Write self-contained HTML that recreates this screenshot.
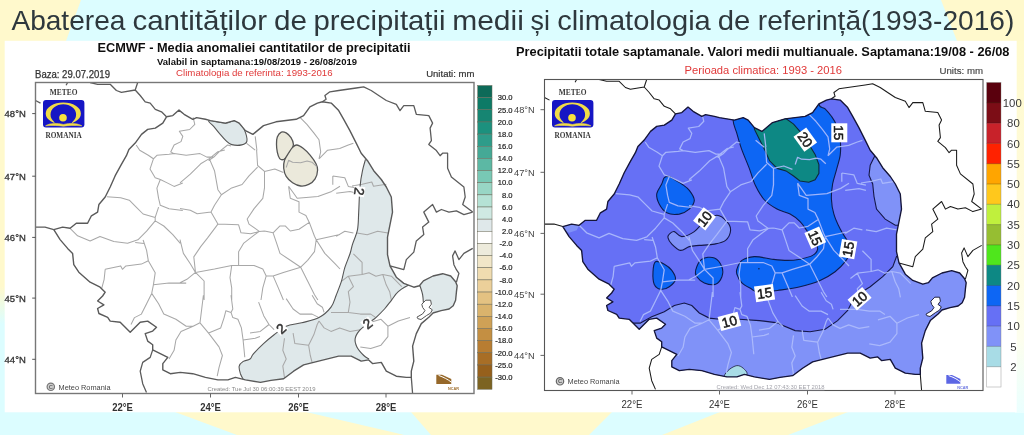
<!DOCTYPE html>
<html><head><meta charset="utf-8"><title>Abaterea cantitatilor de precipitatii</title>
<style>
html,body{margin:0;padding:0;background:#dcfdff;}
body{width:1024px;height:435px;overflow:hidden;}
svg{display:block;font-family:"Liberation Sans",sans-serif;}
</style></head><body>
<svg width="1024" height="435" viewBox="0 0 1024 435">
<defs>

<clipPath id="ro"><path d="M166.5 116.8 L172.8 115.6 L179.0 110.1 L184.1 114.3 L192.8 119.3 L196.6 117.6 L205.4 119.3 L210.4 120.6 L225.4 123.1 L234.2 120.6 L239.2 123.1 L245.4 130.6 L252.9 134.4 L263.5 125.6 L276.0 121.8 L296.1 119.3 L303.6 115.6 L309.9 106.8 L317.4 103.1 L322.4 101.8 L331.2 103.1 L338.7 110.6 L343.7 119.3 L349.9 130.6 L356.2 143.1 L361.2 153.2 L367.5 160.7 L373.7 170.7 L381.3 179.5 L386.3 187.0 L391.3 197.0 L392.5 212.1 L390.0 224.6 L387.5 237.1 L387.5 254.6 L390.0 265.9 L396.3 277.2 L403.8 283.4 L413.8 287.2 L419.4 285.7 L423.4 280.9 L433.0 276.0 L442.7 273.7 L450.7 276.0 L455.6 281.7 L457.2 285.7 L456.4 292.2 L455.6 300.2 L453.2 305.8 L449.1 309.0 L441.1 310.6 L433.0 313.0 L428.8 317.3 L421.3 323.6 L416.3 333.6 L412.6 346.1 L413.8 361.1 L411.3 371.2 L411.3 377.4 L406.3 377.4 L396.3 376.2 L386.3 371.2 L381.3 362.4 L372.5 363.6 L368.7 359.9 L361.2 361.1 L351.2 356.1 L338.7 356.1 L318.6 361.1 L303.6 364.9 L293.6 371.2 L283.6 378.7 L271.0 380.4 L260.5 382.4 L245.4 379.9 L235.4 377.4 L227.9 379.9 L217.9 379.9 L205.4 377.4 L192.8 373.7 L180.3 372.4 L170.3 373.7 L162.8 369.9 L162.8 363.6 L167.8 357.4 L152.7 349.9 L152.7 344.8 L147.7 341.1 L145.2 333.6 L152.7 331.1 L156.5 327.3 L147.7 321.1 L140.2 322.3 L130.2 332.3 L120.2 322.3 L110.2 321.1 L107.7 317.3 L98.9 313.5 L97.6 308.5 L103.9 304.8 L97.6 301.0 L102.6 296.0 L105.2 292.2 L100.1 287.2 L90.1 282.2 L78.8 272.2 L73.8 264.7 L72.6 253.4 L67.6 248.4 L60.1 239.6 L53.8 229.6 L62.6 227.1 L70.1 228.3 L76.3 223.3 L87.6 223.3 L91.4 215.8 L97.6 212.1 L98.9 204.5 L105.2 197.0 L110.2 187.0 L115.2 175.7 L121.4 164.4 L126.4 155.7 L128.9 149.4 L135.2 143.1 L141.5 134.4 L147.7 129.4 L155.3 128.1 L162.8 123.1 Z"/></clipPath>
<clipPath id="frL"><rect x="35.5" y="82.5" width="438.5" height="311"/></clipPath>
<path id="roP" d="M166.5 116.8 L172.8 115.6 L179.0 110.1 L184.1 114.3 L192.8 119.3 L196.6 117.6 L205.4 119.3 L210.4 120.6 L225.4 123.1 L234.2 120.6 L239.2 123.1 L245.4 130.6 L252.9 134.4 L263.5 125.6 L276.0 121.8 L296.1 119.3 L303.6 115.6 L309.9 106.8 L317.4 103.1 L322.4 101.8 L331.2 103.1 L338.7 110.6 L343.7 119.3 L349.9 130.6 L356.2 143.1 L361.2 153.2 L367.5 160.7 L373.7 170.7 L381.3 179.5 L386.3 187.0 L391.3 197.0 L392.5 212.1 L390.0 224.6 L387.5 237.1 L387.5 254.6 L390.0 265.9 L396.3 277.2 L403.8 283.4 L413.8 287.2 L419.4 285.7 L423.4 280.9 L433.0 276.0 L442.7 273.7 L450.7 276.0 L455.6 281.7 L457.2 285.7 L456.4 292.2 L455.6 300.2 L453.2 305.8 L449.1 309.0 L441.1 310.6 L433.0 313.0 L428.8 317.3 L421.3 323.6 L416.3 333.6 L412.6 346.1 L413.8 361.1 L411.3 371.2 L411.3 377.4 L406.3 377.4 L396.3 376.2 L386.3 371.2 L381.3 362.4 L372.5 363.6 L368.7 359.9 L361.2 361.1 L351.2 356.1 L338.7 356.1 L318.6 361.1 L303.6 364.9 L293.6 371.2 L283.6 378.7 L271.0 380.4 L260.5 382.4 L245.4 379.9 L235.4 377.4 L227.9 379.9 L217.9 379.9 L205.4 377.4 L192.8 373.7 L180.3 372.4 L170.3 373.7 L162.8 369.9 L162.8 363.6 L167.8 357.4 L152.7 349.9 L152.7 344.8 L147.7 341.1 L145.2 333.6 L152.7 331.1 L156.5 327.3 L147.7 321.1 L140.2 322.3 L130.2 332.3 L120.2 322.3 L110.2 321.1 L107.7 317.3 L98.9 313.5 L97.6 308.5 L103.9 304.8 L97.6 301.0 L102.6 296.0 L105.2 292.2 L100.1 287.2 L90.1 282.2 L78.8 272.2 L73.8 264.7 L72.6 253.4 L67.6 248.4 L60.1 239.6 L53.8 229.6 L62.6 227.1 L70.1 228.3 L76.3 223.3 L87.6 223.3 L91.4 215.8 L97.6 212.1 L98.9 204.5 L105.2 197.0 L110.2 187.0 L115.2 175.7 L121.4 164.4 L126.4 155.7 L128.9 149.4 L135.2 143.1 L141.5 134.4 L147.7 129.4 L155.3 128.1 L162.8 123.1 Z"/>
<path id="oth" d="M90.1 82.5 L97.6 84.3 L110.2 84.3 L116.4 90.5 L121.4 92.3 L135.2 90.0 L140.2 95.5 L145.2 101.8 L150.2 103.1 L155.3 109.3 L161.5 111.8 L166.5 116.8 M135.2 90.0 L137.7 82.5 M67.6 82.5 L66.1 85.3 M35.5 100.5 L40.5 103.1 M53.8 229.6 L45.0 227.1 L35.5 227.1 M152.7 349.9 L150.2 357.4 L142.7 362.4 L140.2 371.2 L142.7 383.7 L146.5 392.4 M411.3 377.4 L412.6 393.7 M322.4 101.8 L326.1 99.3 L324.9 95.5 L329.9 91.8 L338.7 90.5 L356.2 88.0 L363.7 86.8 L371.2 90.5 L378.7 95.5 L386.3 100.5 L396.3 104.3 L400.0 110.6 L403.8 105.6 L413.8 105.6 L416.3 114.3 L428.8 115.6 L432.6 123.1 L430.1 128.1 L431.4 140.6 L428.8 144.4 L436.4 150.6 L440.1 155.7 L442.6 153.2 L447.6 153.2 L447.6 168.2 L451.4 176.9 L463.9 187.0 L465.2 197.0 L462.7 204.5 L472.7 212.1 M390.0 265.9 L403.8 269.7 L406.3 259.6 L413.8 252.1 L416.3 240.9 L423.8 234.6 L422.6 227.1 L428.8 222.1 L423.8 212.1 L432.6 204.5 L436.4 212.1 L441.4 209.5 L448.9 212.1 L456.4 210.8 L463.9 214.6 L472.7 212.1 M472.7 248.4 L463.9 253.4 L458.9 259.6 L455.1 250.9 L452.6 255.9 L453.9 264.7 L456.4 269.7 L458.9 273.4 L456.4 282.2"/>
<path id="lag" d="M421.8 304.2 L425.8 300.2 L430.6 300.2 L431.4 304.2 L429.0 307.4 L432.3 309.8 L430.6 313.1 L426.6 315.5 L421.0 319.5 L417.8 318.7 L417.0 317.1 L422.6 313.9 L425.0 310.6 L422.6 307.4 Z"/>
<path id="cty" d="M193.1 117.4 L194.8 124.3 L189.7 129.5 L179.3 131.2 L182.8 136.4 L181.0 141.6 L174.1 145.0 L170.7 151.9 L174.1 153.6 L186.2 155.3 L200.0 153.6 L206.9 157.1 L213.8 157.1 M136.2 145.0 L139.7 150.2 L148.3 155.3 L153.4 158.8 L156.9 155.3 L169.0 154.3 L174.1 153.6 M213.8 157.1 L219.0 151.9 L227.6 145.0 L231.0 146.0 M153.4 158.8 L150.0 169.1 L155.2 177.8 L160.3 179.5 L167.2 182.9 L174.1 186.4 L182.8 182.9 M208.6 160.5 L213.8 157.1 M160.3 179.5 L156.9 188.1 L158.6 198.4 L160.3 205.3 L169.0 208.8 L182.8 210.5 M106.9 196.7 L120.7 197.8 L129.3 200.2 L136.2 207.1 L143.1 214.0 L155.2 217.4 L158.6 207.1 M70.1 228.3 L77.6 235.8 L90.1 240.9 L100.0 236.4 L113.8 241.6 L127.6 243.3 L137.9 239.8 L146.6 231.2 L155.2 220.9 L155.2 217.4 M155.2 220.9 L163.8 226.0 L172.8 234.7 L180.3 243.3 M135.2 242.6 L144.0 243.4 M246.6 143.3 L255.2 150.2 M300.0 117.4 L306.9 124.3 L313.8 132.9 L319.0 139.8 L320.7 151.9 L319.0 158.8 M319.0 158.8 L327.6 150.2 L339.7 148.4 L348.3 145.0 L353.4 143.3 M332.8 176.0 L344.8 177.8 L348.3 186.4 L356.9 188.1 M255.2 136.4 L256.9 150.2 M332.8 184.7 L332.8 176.0 M336.2 236.4 L344.8 231.2 L353.4 232.9 M336.2 193.3 L350.0 191.6 L356.9 193.3 M356.9 232.9 L367.2 234.7 L377.6 231.2 L387.9 232.9 M105.2 269.3 L120.7 265.9 L122.4 269.3 L125.9 265.9 L141.4 264.1 L148.3 260.7 L146.6 250.3 L143.1 240.0 M105.2 269.3 L104.1 279.7 L101.7 288.3 M148.3 260.7 L155.2 272.8 L153.4 284.8 L151.7 293.4 L146.6 303.8 L141.4 314.1 L134.5 317.6 L131.0 324.5 M153.4 284.8 L169.0 283.1 L186.2 283.1 M151.7 293.4 L158.6 303.8 L163.8 314.1 L175.9 319.3 L186.2 326.2 L193.1 326.2 L200.0 322.8 L201.7 309.0 L203.4 295.2 M193.1 326.2 L181.0 331.4 L175.9 340.0 L174.1 350.3 L169.0 359.0 M200.0 322.8 L208.6 333.1 L219.0 346.9 L222.4 355.5 L219.0 367.6 L217.2 376.2 M208.6 333.1 L220.7 327.9 L224.1 317.6 L225.9 310.7 L231.0 312.4 L232.8 317.6 L237.9 319.3 L241.4 327.9 L243.1 340.0 L244.8 357.2 M231.0 295.2 L232.8 309.0 L231.0 312.4 M243.1 340.0 L255.2 338.3 L260.0 336.6 M286.2 298.6 L293.1 309.0 L300.0 314.1 L312.1 314.1 L319.0 317.6 M312.1 295.2 L317.2 303.8 L322.4 307.2 L324.1 312.4 M258.6 302.1 L263.8 315.9 L269.0 324.5 L274.1 329.7 M341.4 281.4 L348.3 276.2 L362.1 274.5 L369.0 272.8 L375.9 276.2 L382.8 274.5 L391.4 276.2 L396.6 281.4 L401.7 286.6 M362.1 274.5 L362.1 262.4 L353.4 253.8 M348.3 276.2 L353.4 286.6 L348.3 291.7 L350.0 302.1 L348.3 312.4 M382.8 274.5 L386.2 284.8 L389.7 291.7 L391.4 300.3 M331.0 312.4 L348.3 312.4 L360.3 314.1 L370.7 314.1 L375.9 317.6 M319.0 321.0 L324.1 327.9 L331.0 331.4 L339.7 327.9 L350.0 331.4 L360.3 329.7 M293.1 333.1 L294.8 343.4 L308.6 345.2 L313.8 334.8 L317.2 324.5 L319.0 321.0 M308.6 345.2 L310.3 355.5 L312.1 362.4 M284.5 338.3 L282.8 350.3 L286.2 359.0 L282.8 365.9 L284.5 377.9 M369.0 322.8 L381.0 319.3 L387.9 326.2 L387.9 336.6 L381.0 345.2 L370.7 348.6 L360.3 346.9 M387.9 326.2 L398.3 321.0 L410.0 317.6 M250.0 333.1 L260.3 331.4 L269.0 324.5 M286.2 167.5 L288.6 160.3 L292.6 162.2 L300.6 162.7 L307.1 161.1 L311.9 162.2 L316.8 166.7 M352.0 186.0 L362.2 184.3 L371.8 182.0 L373.5 186.3 L386.3 184.3 M256.6 150.0 L257.6 165.5 L264.5 171.4 L274.8 169.0 L283.4 172.4 M209.3 158.6 L214.5 170.7 L217.9 189.7 L221.4 194.8 L231.7 187.9 L242.1 184.5 L249.0 175.9 L257.6 167.2 M180.0 182.8 L190.3 174.1 L200.7 163.8 L209.3 158.6 L217.9 151.7 L224.8 150.0 M221.4 194.8 L214.5 205.2 L211.0 212.1 L197.2 213.8 L190.3 210.3 L180.0 208.6 M211.0 212.1 L217.9 224.1 L238.6 224.8 L241.0 232.8 L250.7 233.8 L259.3 231.4 L264.5 231.0 M264.5 171.4 L264.5 187.9 L262.8 198.3 L254.1 208.6 L247.2 219.0 L249.0 224.1 L259.3 231.4 M264.5 231.0 L273.1 232.8 L280.0 225.9 L285.2 225.9 L290.3 231.0 L299.0 229.3 L309.3 222.4 L305.9 215.5 L299.0 212.1 L299.0 201.7 L290.3 198.3 L288.6 186.2 M309.3 222.4 L314.5 236.2 L316.2 239.7 L340.0 234.5 M316.2 239.7 L314.5 251.7 L307.6 260.3 L300.7 267.2 L290.3 260.3 L280.0 253.4 L276.6 243.1 L273.1 232.8 M300.7 267.2 L283.4 272.4 L273.1 275.9 L266.2 275.9 L262.8 269.0 L254.1 265.5 L238.6 265.5 L231.7 265.5 L214.5 269.0 L195.5 272.4 M238.6 265.5 L238.6 251.7 L243.8 243.1 L254.1 235.2 L259.3 231.4 M195.5 272.4 L193.8 256.9 L200.7 246.6 L207.6 237.9 L217.9 224.1 M195.5 272.4 L186.9 279.3 L180.0 282.8 M195.5 272.4 L204.1 281.0 L204.1 300.0 M231.7 265.5 L230.0 277.6 L231.7 287.9 L231.7 300.0 M266.2 275.9 L262.8 287.9 L261.0 300.0 M273.1 275.9 L278.3 287.9 L283.4 300.0 M300.7 267.2 L307.6 281.0 L314.5 294.8 L317.9 300.0 M316.2 239.7 L324.8 253.4 L335.2 263.8 L340.0 269.0 M180.0 239.7 L183.4 253.4 L190.3 263.8 L195.5 272.4 M288.6 186.2 L297.2 198.3 L317.9 196.6 L331.7 191.4 L340.0 186.2"/>
<g id="logo">
<text x="20.6" y="-5.1" font-family="Liberation Serif" font-weight="bold" font-size="8" text-anchor="middle" fill="#3a3a3a" textLength="27.6" lengthAdjust="spacingAndGlyphs">METEO</text>
<rect x="0" y="0" width="41.4" height="27.5" rx="3" fill="#1818c4"/>
<clipPath id="lgc"><rect x="0" y="0" width="41.4" height="23.6"/></clipPath>
<path clip-rule="evenodd" clip-path="url(#lgc)" fill-rule="evenodd" fill="#f0dc46" d="M2.7 13.5 A17.6 11 0 1 0 37.9 13.5 A17.6 11 0 1 0 2.7 13.5 Z M7.5 14.6 A12.8 10.4 0 1 0 33.1 14.6 A12.8 10.4 0 1 0 7.5 14.6 Z"/>
<rect x="11.5" y="20.6" width="17.6" height="4.4" fill="#1818c4"/>
<path d="M2.6 25.8 C7 23 14 22.9 20.4 24.5 C27 22.9 34 23 38.8 25.8 C31 25.2 26 25.4 20.4 26.2 C15 25.4 10 25.2 2.6 25.8 Z" fill="#f0dc46" stroke="#f0dc46" stroke-width="0.6"/>
<circle cx="20" cy="17.8" r="3.8" fill="#f7e23c"/>
<text x="20.6" y="38.3" font-family="Liberation Serif" font-weight="bold" font-size="8" text-anchor="middle" fill="#3a3a3a" textLength="36.4" lengthAdjust="spacingAndGlyphs">ROMANIA</text>
</g>

<linearGradient id="rg" x1="0" y1="0" x2="0" y2="1"><stop offset="0" stop-color="#fffacd"/><stop offset="0.45" stop-color="#fffbdc"/><stop offset="0.8" stop-color="#fdfeee"/><stop offset="1" stop-color="#eaffff"/></linearGradient>
<linearGradient id="lgd" x1="0" y1="0" x2="0" y2="1"><stop offset="0" stop-color="#fff9cc"/><stop offset="0.66" stop-color="#fff9cc"/><stop offset="0.76" stop-color="#dcfdff"/><stop offset="1" stop-color="#dcfdff"/></linearGradient>
<filter id="soft" x="0" y="0" width="1024" height="435" filterUnits="userSpaceOnUse"><feGaussianBlur stdDeviation="0.4"/></filter>
</defs>

<g filter="url(#soft)">
<rect width="1024" height="435" fill="#dcfdff"/>
<path d="M0 0 L81 0 L66 41 L0 41 Z" fill="#fff9cc"/><rect x="0" y="41" width="6" height="372" fill="url(#lgd)"/>
<path d="M941 0 L1024 0 L1024 41 L957 41 Z" fill="#fff9cc"/><rect x="1015" y="41" width="9" height="372" fill="url(#rg)"/>
<path d="M175 412 L306 412 L396 433 L404 435 L237 435 Z" fill="#fff9cc"/>
<path d="M411 412 L612 412 L589 435 L431 435 Z" fill="#fff9cc"/>
<path d="M720 412 L848 412 L788 435 L662 435 Z" fill="#fff9cc"/>
<rect x="4.7" y="40.8" width="1012" height="371.5" fill="#ffffff"/>
<text x="11.4" y="29.7" font-size="27.2" fill="#2f393e" textLength="114.0" lengthAdjust="spacingAndGlyphs">Abaterea</text>
<text x="132.4" y="29.7" font-size="27.2" fill="#2f393e" textLength="134.6" lengthAdjust="spacingAndGlyphs">cantităților</text>
<text x="274.0" y="29.7" font-size="27.2" fill="#2f393e" textLength="33.0" lengthAdjust="spacingAndGlyphs">de</text>
<text x="313.4" y="29.7" font-size="27.2" fill="#2f393e" textLength="132.2" lengthAdjust="spacingAndGlyphs">precipitații</text>
<text x="452.2" y="29.7" font-size="27.2" fill="#2f393e" textLength="71.6" lengthAdjust="spacingAndGlyphs">medii</text>
<text x="530.6" y="29.7" font-size="27.2" fill="#2f393e" textLength="19.4" lengthAdjust="spacingAndGlyphs">și</text>
<text x="557.2" y="29.7" font-size="27.2" fill="#2f393e" textLength="153.6" lengthAdjust="spacingAndGlyphs">climatologia</text>
<text x="717.8" y="29.7" font-size="27.2" fill="#2f393e" textLength="32.6" lengthAdjust="spacingAndGlyphs">de</text>
<text x="757.8" y="29.7" font-size="27.2" fill="#2f393e" textLength="256.6" lengthAdjust="spacingAndGlyphs">referință(1993-2016)</text>
<g clip-path="url(#frL)">
<g clip-path="url(#ro)">
<path d="M365.5 159.4 L362.5 170.7 L360.0 187.0 L358.7 212.1 L357.5 229.6 L352.4 244.6 L350.0 253.8 L344.8 267.6 L341.4 281.4 L336.2 295.2 L331.0 307.2 L319.0 317.6 L301.7 322.8 L286.2 326.2 L274.1 334.8 L263.8 343.4 L253.4 353.8 L250.0 359.0 L242.9 361.6 L239.2 366.1 L240.4 373.7 L244.2 381.2 L260.0 420.0 L520.0 420.0 L520.0 150.0 Z" fill="#dfe8ea"/>
<path d="M369.0 359.0 L363.8 355.5 L356.9 346.9 L355.2 338.3 L360.3 329.7 L369.0 322.8 L375.9 317.6 L384.5 309.0 L391.4 300.3 L398.3 291.7 L410.0 284.8 L419.4 285.7 L480.0 285.7 L480.0 420.0 L370.0 420.0 Z" fill="#ffffff"/>
<path d="M419.4 285.7 L423.4 280.9 L433.0 276.0 L442.7 273.7 L450.7 276.0 L455.6 281.7 L457.2 285.7 L456.4 292.2 L455.6 300.2 L453.2 305.8 L449.1 309.0 L441.1 310.6 L433.0 313.0 L431.4 308.2 L432.2 303.4 L428.2 301.0 L423.4 302.6 L422.6 294.6 L420.2 286.5 Z" fill="#dfe8ea"/>
<path d="M209.1 120.6 C211.0 120.0 221.2 123.1 225.4 123.1 C229.6 123.1 231.9 120.6 234.2 120.6 C236.5 120.6 237.5 121.6 239.2 123.1 C240.8 124.6 242.9 126.3 244.2 129.4 C245.5 132.4 247.4 138.5 246.9 141.1 C246.5 143.7 244.2 144.3 241.7 144.9 C239.1 145.5 234.3 145.3 231.7 144.6 C229.0 143.9 227.9 142.5 225.9 140.6 C223.9 138.8 221.6 135.9 219.6 133.6 C217.7 131.3 215.9 129.0 214.1 126.8 C212.4 124.7 207.2 121.2 209.1 120.6 Z" fill="#dfe8ea"/>
</g>
<path d="M281.3 132.1 C282.8 131.4 284.6 132.0 286.2 132.9 C287.8 133.8 289.8 135.8 291.0 137.7 C292.2 139.6 293.3 142.2 293.4 144.2 C293.5 146.2 292.7 147.9 291.8 149.8 C290.9 151.7 289.2 153.8 287.8 155.4 C286.4 157.0 285.1 159.0 283.7 159.5 C282.3 160.0 280.8 159.8 279.7 158.6 C278.6 157.4 277.8 154.6 277.3 152.2 C276.8 149.8 276.5 146.8 276.5 144.2 C276.5 141.6 276.5 138.9 277.3 136.9 C278.1 134.9 279.8 132.8 281.3 132.1 Z" fill="#ebe9db" stroke="#555" stroke-width="1.3"/>
<path d="M296.6 145.0 C298.4 145.1 300.8 146.5 303.1 148.2 C305.4 149.9 308.2 152.8 310.3 155.4 C312.4 158.0 314.7 161.1 315.9 163.5 C317.1 165.9 317.7 167.3 317.6 169.9 C317.5 172.5 316.6 176.4 315.1 178.8 C313.6 181.2 311.1 183.2 308.7 184.4 C306.3 185.6 303.3 186.3 300.6 186.0 C297.9 185.7 295.0 184.4 292.6 182.8 C290.2 181.2 287.7 178.8 286.2 176.4 C284.7 174.0 284.0 171.0 283.7 168.3 C283.4 165.6 283.7 162.9 284.5 160.3 C285.3 157.8 287.2 155.2 288.6 153.0 C290.0 150.8 291.3 148.7 292.6 147.4 C293.9 146.1 294.9 144.9 296.6 145.0 Z" fill="#ebe9db" stroke="#555" stroke-width="1.3"/>
<use href="#cty" fill="none" stroke="#a8a8a8" stroke-width="1.05" stroke-linejoin="round"/>
<g clip-path="url(#ro)">
<path d="M209.1 120.6 C211.0 120.0 221.2 123.1 225.4 123.1 C229.6 123.1 231.9 120.6 234.2 120.6 C236.5 120.6 237.5 121.6 239.2 123.1 C240.8 124.6 242.9 126.3 244.2 129.4 C245.5 132.4 247.4 138.5 246.9 141.1 C246.5 143.7 244.2 144.3 241.7 144.9 C239.1 145.5 234.3 145.3 231.7 144.6 C229.0 143.9 227.9 142.5 225.9 140.6 C223.9 138.8 221.6 135.9 219.6 133.6 C217.7 131.3 215.9 129.0 214.1 126.8 C212.4 124.7 207.2 121.2 209.1 120.6 Z" fill="none" stroke="#555" stroke-width="1.1"/>
<path d="M365.5 159.4 C365.0 161.3 363.4 166.1 362.5 170.7 C361.5 175.3 360.6 180.1 360.0 187.0 C359.3 193.9 359.1 204.9 358.7 212.1 C358.3 219.2 358.5 224.2 357.5 229.6 C356.4 235.0 353.7 240.6 352.4 244.6 C351.2 248.6 351.3 250.0 350.0 253.8 C348.7 257.6 346.3 263.0 344.8 267.6 C343.4 272.2 342.8 276.8 341.4 281.4 C339.9 286.0 337.9 290.9 336.2 295.2 C334.5 299.5 333.9 303.5 331.0 307.2 C328.2 311.0 323.9 315.0 319.0 317.6 C314.1 320.2 307.2 321.3 301.7 322.8 C296.3 324.2 290.8 324.2 286.2 326.2 C281.6 328.2 277.9 332.0 274.1 334.8 C270.4 337.7 267.2 340.3 263.8 343.4 C260.3 346.6 255.7 351.2 253.4 353.8 C251.1 356.4 251.8 357.7 250.0 359.0 C248.2 360.3 244.7 360.4 242.9 361.6 C241.1 362.8 239.6 364.1 239.2 366.1 C238.8 368.1 239.6 371.2 240.4 373.7 C241.3 376.2 243.6 379.9 244.2 381.2" fill="none" stroke="#555" stroke-width="1.1"/>
<path d="M369.0 359.0 C368.1 358.4 365.8 357.5 363.8 355.5 C361.8 353.5 358.3 349.8 356.9 346.9 C355.5 344.0 354.6 341.1 355.2 338.3 C355.7 335.4 358.0 332.2 360.3 329.7 C362.6 327.1 366.4 324.8 369.0 322.8 C371.6 320.7 373.3 319.9 375.9 317.6 C378.4 315.3 381.9 311.8 384.5 309.0 C387.1 306.1 389.1 303.2 391.4 300.3 C393.7 297.5 395.2 294.3 398.3 291.7 C401.4 289.1 406.5 285.8 410.0 284.8 C413.5 283.8 417.8 285.6 419.4 285.7" fill="none" stroke="#555" stroke-width="1.1"/>
<path d="M419.4 285.7 C419.5 285.8 419.7 285.0 420.2 286.5 C420.7 288.0 422.1 291.9 422.6 294.6 C423.1 297.3 423.3 301.3 423.4 302.6" fill="none" stroke="#555" stroke-width="1.1"/>
</g>
<use href="#lag" fill="#fff" stroke="#555" stroke-width="1" stroke-linejoin="round"/>
<use href="#oth" fill="none" stroke="#5c5c5c" stroke-width="1.3" stroke-linejoin="round"/>
<use href="#roP" fill="none" stroke="#5a5a5a" stroke-width="1.4" stroke-linejoin="round"/>
</g>
<g transform="translate(359.2 191.5) rotate(98)"><rect x="-5" y="-5.5" width="10" height="11" fill="#fff"/><text x="0" y="4.9" font-size="13.8" text-anchor="middle" fill="#333" stroke="#333" stroke-width="0.5">2</text></g>
<g transform="translate(281.0 328.6) rotate(-42)"><rect x="-5" y="-5.5" width="10" height="11" fill="#fff"/><text x="0" y="4.9" font-size="13.8" text-anchor="middle" fill="#333" stroke="#333" stroke-width="0.5">2</text></g>
<g transform="translate(367.5 323.6) rotate(-38)"><rect x="-5" y="-5.5" width="10" height="11" fill="#fff"/><text x="0" y="4.9" font-size="13.8" text-anchor="middle" fill="#333" stroke="#333" stroke-width="0.5">2</text></g>
<rect x="35.5" y="82.5" width="438.5" height="311" fill="none" stroke="#777" stroke-width="1.4"/>
<use href="#logo" x="43" y="100"/>
<text x="254" y="52.4" font-size="12.4" font-weight="bold" text-anchor="middle" fill="#111" textLength="313" lengthAdjust="spacingAndGlyphs">ECMWF - Media anomaliei cantitatilor de precipitatii</text>
<text x="257" y="65.1" font-size="9.2" font-weight="bold" text-anchor="middle" fill="#111" textLength="200" lengthAdjust="spacingAndGlyphs">Valabil in saptamana:19/08/2019 - 26/08/2019</text>
<text x="254.3" y="75.6" font-size="9.2" text-anchor="middle" fill="#e03838" textLength="156.5" lengthAdjust="spacingAndGlyphs">Climatologia de referinta: 1993-2016</text>
<text x="35" y="77.5" font-size="10.2" fill="#333" stroke="#333" stroke-width="0.25" textLength="75" lengthAdjust="spacingAndGlyphs">Baza: 29.07.2019</text>
<text x="426.2" y="77.3" font-size="9.6" fill="#333" stroke="#333" stroke-width="0.2" textLength="48.2" lengthAdjust="spacingAndGlyphs">Unitati: mm</text>
<text x="4.6" y="117.0" font-size="9.6" fill="#333" stroke="#333" stroke-width="0.3" textLength="21.2" lengthAdjust="spacingAndGlyphs">48°N</text>
<path d="M32.2 113.6 H35.5" stroke="#555" stroke-width="1"/>
<text x="4.6" y="179.6" font-size="9.6" fill="#333" stroke="#333" stroke-width="0.3" textLength="21.2" lengthAdjust="spacingAndGlyphs">47°N</text>
<path d="M32.2 176.2 H35.5" stroke="#555" stroke-width="1"/>
<text x="4.6" y="240.8" font-size="9.6" fill="#333" stroke="#333" stroke-width="0.3" textLength="21.2" lengthAdjust="spacingAndGlyphs">46°N</text>
<path d="M32.2 237.4 H35.5" stroke="#555" stroke-width="1"/>
<text x="4.6" y="301.5" font-size="9.6" fill="#333" stroke="#333" stroke-width="0.3" textLength="21.2" lengthAdjust="spacingAndGlyphs">45°N</text>
<path d="M32.2 298.1 H35.5" stroke="#555" stroke-width="1"/>
<text x="4.6" y="362.7" font-size="9.6" fill="#333" stroke="#333" stroke-width="0.3" textLength="21.2" lengthAdjust="spacingAndGlyphs">44°N</text>
<path d="M32.2 359.3 H35.5" stroke="#555" stroke-width="1"/>
<text x="122.5" y="411.2" font-size="10.2" font-weight="bold" fill="#333" text-anchor="middle" textLength="20.7" lengthAdjust="spacingAndGlyphs">22°E</text>
<path d="M122.5 393.5 V397.5" stroke="#666" stroke-width="1"/>
<text x="210.5" y="411.2" font-size="10.2" font-weight="bold" fill="#333" text-anchor="middle" textLength="20.7" lengthAdjust="spacingAndGlyphs">24°E</text>
<path d="M210.5 393.5 V397.5" stroke="#666" stroke-width="1"/>
<text x="298.5" y="411.2" font-size="10.2" font-weight="bold" fill="#333" text-anchor="middle" textLength="20.7" lengthAdjust="spacingAndGlyphs">26°E</text>
<path d="M298.5 393.5 V397.5" stroke="#666" stroke-width="1"/>
<text x="386.0" y="411.2" font-size="10.2" font-weight="bold" fill="#333" text-anchor="middle" textLength="20.7" lengthAdjust="spacingAndGlyphs">28°E</text>
<path d="M386.0 393.5 V397.5" stroke="#666" stroke-width="1"/>
<circle cx="50.8" cy="386.8" r="3.7" fill="#cfcfcf" stroke="#777" stroke-width="1.2"/><text x="50.8" y="388.9" font-size="5.8" text-anchor="middle" fill="#666" font-weight="bold">C</text>
<text x="58.5" y="389.5" font-size="7.4" fill="#444" textLength="52" lengthAdjust="spacingAndGlyphs">Meteo Romania</text>
<text x="207.5" y="390.6" font-size="5" fill="#888" textLength="108" lengthAdjust="spacingAndGlyphs">Created: Tue Jul 30 06:00:39 EEST 2019</text>
<path d="M436.3 374.8 L442 374.8 L451.3 379 L451.3 383.9 L436.3 383.9 Z" fill="#96682a"/><path d="M438.6 375.4 C443 377 447.8 379.3 451.7 382.4" stroke="#fff" stroke-width="1" fill="none"/>
<text x="453.5" y="389.6" font-size="3.8" fill="#a07030" text-anchor="middle" font-weight="bold">NCAR</text>
<rect x="477.7" y="85.50" width="14.3" height="12.15" fill="#0b6b58" stroke="#6a6a5a" stroke-width="0.5"/>
<rect x="477.7" y="97.65" width="14.3" height="12.15" fill="#0f7a66" stroke="#6a6a5a" stroke-width="0.5"/>
<rect x="477.7" y="109.80" width="14.3" height="12.15" fill="#158572" stroke="#6a6a5a" stroke-width="0.5"/>
<rect x="477.7" y="121.95" width="14.3" height="12.15" fill="#1f917e" stroke="#6a6a5a" stroke-width="0.5"/>
<rect x="477.7" y="134.10" width="14.3" height="12.15" fill="#2e9c8a" stroke="#6a6a5a" stroke-width="0.5"/>
<rect x="477.7" y="146.25" width="14.3" height="12.15" fill="#45a996" stroke="#6a6a5a" stroke-width="0.5"/>
<rect x="477.7" y="158.40" width="14.3" height="12.15" fill="#5bb8a4" stroke="#6a6a5a" stroke-width="0.5"/>
<rect x="477.7" y="170.55" width="14.3" height="12.15" fill="#78c8b5" stroke="#6a6a5a" stroke-width="0.5"/>
<rect x="477.7" y="182.70" width="14.3" height="12.15" fill="#98d6c5" stroke="#6a6a5a" stroke-width="0.5"/>
<rect x="477.7" y="194.85" width="14.3" height="12.15" fill="#b5e2d5" stroke="#6a6a5a" stroke-width="0.5"/>
<rect x="477.7" y="207.00" width="14.3" height="12.15" fill="#cfe9e3" stroke="#6a6a5a" stroke-width="0.5"/>
<rect x="477.7" y="219.15" width="14.3" height="12.15" fill="#dfe8ea" stroke="#6a6a5a" stroke-width="0.5"/>
<rect x="477.7" y="231.30" width="14.3" height="12.15" fill="#ffffff" stroke="#6a6a5a" stroke-width="0.5"/>
<rect x="477.7" y="243.45" width="14.3" height="12.15" fill="#edebdc" stroke="#6a6a5a" stroke-width="0.5"/>
<rect x="477.7" y="255.60" width="14.3" height="12.15" fill="#f1e6c8" stroke="#6a6a5a" stroke-width="0.5"/>
<rect x="477.7" y="267.75" width="14.3" height="12.15" fill="#f0dcb0" stroke="#6a6a5a" stroke-width="0.5"/>
<rect x="477.7" y="279.90" width="14.3" height="12.15" fill="#ecd09a" stroke="#6a6a5a" stroke-width="0.5"/>
<rect x="477.7" y="292.05" width="14.3" height="12.15" fill="#e4c282" stroke="#6a6a5a" stroke-width="0.5"/>
<rect x="477.7" y="304.20" width="14.3" height="12.15" fill="#dab36c" stroke="#6a6a5a" stroke-width="0.5"/>
<rect x="477.7" y="316.35" width="14.3" height="12.15" fill="#cfa157" stroke="#6a6a5a" stroke-width="0.5"/>
<rect x="477.7" y="328.50" width="14.3" height="12.15" fill="#c48f42" stroke="#6a6a5a" stroke-width="0.5"/>
<rect x="477.7" y="340.65" width="14.3" height="12.15" fill="#b87d30" stroke="#6a6a5a" stroke-width="0.5"/>
<rect x="477.7" y="352.80" width="14.3" height="12.15" fill="#a86e25" stroke="#6a6a5a" stroke-width="0.5"/>
<rect x="477.7" y="364.95" width="14.3" height="12.15" fill="#96601e" stroke="#6a6a5a" stroke-width="0.5"/>
<rect x="477.7" y="377.10" width="14.3" height="12.15" fill="#7c6420" stroke="#6a6a5a" stroke-width="0.5"/>
<text x="512.6" y="100.4" font-size="7.6" text-anchor="end" fill="#222" stroke="#222" stroke-width="0.2">30.0</text>
<text x="512.6" y="112.5" font-size="7.6" text-anchor="end" fill="#222" stroke="#222" stroke-width="0.2">25.0</text>
<text x="512.6" y="124.7" font-size="7.6" text-anchor="end" fill="#222" stroke="#222" stroke-width="0.2">20.0</text>
<text x="512.6" y="136.8" font-size="7.6" text-anchor="end" fill="#222" stroke="#222" stroke-width="0.2">18.0</text>
<text x="512.6" y="148.9" font-size="7.6" text-anchor="end" fill="#222" stroke="#222" stroke-width="0.2">16.0</text>
<text x="512.6" y="161.1" font-size="7.6" text-anchor="end" fill="#222" stroke="#222" stroke-width="0.2">14.0</text>
<text x="512.6" y="173.2" font-size="7.6" text-anchor="end" fill="#222" stroke="#222" stroke-width="0.2">12.0</text>
<text x="512.6" y="185.4" font-size="7.6" text-anchor="end" fill="#222" stroke="#222" stroke-width="0.2">10.0</text>
<text x="512.6" y="197.6" font-size="7.6" text-anchor="end" fill="#222" stroke="#222" stroke-width="0.2">8.0</text>
<text x="512.6" y="209.7" font-size="7.6" text-anchor="end" fill="#222" stroke="#222" stroke-width="0.2">6.0</text>
<text x="512.6" y="221.8" font-size="7.6" text-anchor="end" fill="#222" stroke="#222" stroke-width="0.2">4.0</text>
<text x="512.6" y="234.0" font-size="7.6" text-anchor="end" fill="#222" stroke="#222" stroke-width="0.2">2.0</text>
<text x="512.6" y="246.2" font-size="7.6" text-anchor="end" fill="#222" stroke="#222" stroke-width="0.2">-2.0</text>
<text x="512.6" y="258.3" font-size="7.6" text-anchor="end" fill="#222" stroke="#222" stroke-width="0.2">-4.0</text>
<text x="512.6" y="270.4" font-size="7.6" text-anchor="end" fill="#222" stroke="#222" stroke-width="0.2">-6.0</text>
<text x="512.6" y="282.6" font-size="7.6" text-anchor="end" fill="#222" stroke="#222" stroke-width="0.2">-8.0</text>
<text x="512.6" y="294.8" font-size="7.6" text-anchor="end" fill="#222" stroke="#222" stroke-width="0.2">-10.0</text>
<text x="512.6" y="306.9" font-size="7.6" text-anchor="end" fill="#222" stroke="#222" stroke-width="0.2">-12.0</text>
<text x="512.6" y="319.1" font-size="7.6" text-anchor="end" fill="#222" stroke="#222" stroke-width="0.2">-14.0</text>
<text x="512.6" y="331.2" font-size="7.6" text-anchor="end" fill="#222" stroke="#222" stroke-width="0.2">-16.0</text>
<text x="512.6" y="343.3" font-size="7.6" text-anchor="end" fill="#222" stroke="#222" stroke-width="0.2">-18.0</text>
<text x="512.6" y="355.5" font-size="7.6" text-anchor="end" fill="#222" stroke="#222" stroke-width="0.2">-20.0</text>
<text x="512.6" y="367.6" font-size="7.6" text-anchor="end" fill="#222" stroke="#222" stroke-width="0.2">-25.0</text>
<text x="512.6" y="379.8" font-size="7.6" text-anchor="end" fill="#222" stroke="#222" stroke-width="0.2">-30.0</text>
<g transform="translate(509 -3)">
<g clip-path="url(#frL)">
<g clip-path="url(#ro)">
<rect x="30" y="80" width="450" height="320" fill="#6670f5"/>
<path d="M131.5 326.1 L142.7 319.8 L155.3 314.8 L165.3 308.5 L175.3 306.0 L182.8 308.5 L190.3 316.0 L200.3 321.1 L210.4 322.3 L230.4 322.3 L250.4 323.6 L270.5 326.1 L271.0 327.3 L286.1 333.6 L301.1 334.8 L316.1 332.3 L328.6 323.6 L338.7 313.5 L343.7 303.5 L348.7 296.0 L351.2 296.0 L361.2 289.7 L373.7 279.7 L383.8 269.7 L387.5 259.6 L512.0 250.0 L512.0 420.0 L100.0 420.0 L100.0 326.0 Z" fill="#8092f8" stroke="#141848" stroke-width="1.1"/>
<path d="M365.5 159.4 L361.2 168.2 L360.0 178.2 L363.7 187.0 L365.0 199.5 L367.5 212.1 L376.2 222.1 L386.3 228.3 L420.0 228.0 L420.0 150.0 Z" fill="#8092f8" stroke="#141848" stroke-width="1.1"/>
<path d="M160.3 237.1 C161.3 236.1 163.2 234.2 165.3 234.6 C167.4 235.0 169.4 239.6 172.8 239.6 C176.1 239.6 181.6 237.1 185.3 234.6 C189.1 232.1 191.6 227.3 195.3 224.6 C199.1 221.9 204.1 218.3 207.9 218.3 C211.6 218.3 215.6 222.1 217.9 224.6 C220.2 227.1 221.8 230.2 221.6 233.3 C221.4 236.5 219.3 241.1 216.6 243.4 C213.9 245.7 209.7 246.3 205.4 247.1 C201.0 248.0 194.5 248.0 190.3 248.4 C186.1 248.8 183.4 248.8 180.3 249.6 C177.2 250.5 174.5 253.8 171.5 253.4 C168.6 253.0 164.9 249.2 162.8 247.1 C160.7 245.0 159.4 242.5 159.0 240.9 C158.6 239.2 159.2 238.1 160.3 237.1 Z" fill="#8092f8" stroke="#141848" stroke-width="1.1"/>
<path d="M53.8 229.6 L62.6 227.1 L70.1 228.3 L67.6 233.3 L60.1 235.8 L55.1 233.3 Z" fill="#8092f8"/>
<path d="M152.7 187.0 C154.0 184.3 154.0 182.0 155.3 180.7 C156.5 179.5 158.4 179.1 160.3 179.5 C162.1 179.9 164.4 182.0 166.5 183.2 C168.6 184.5 170.5 185.3 172.8 187.0 C175.1 188.7 178.2 190.5 180.3 193.3 C182.4 196.0 185.3 200.2 185.3 203.3 C185.3 206.4 182.8 209.8 180.3 212.1 C177.8 214.3 174.0 216.4 170.3 217.1 C166.5 217.7 161.1 217.5 157.8 215.8 C154.4 214.1 151.9 210.2 150.2 207.0 C148.6 203.9 147.3 200.4 147.7 197.0 C148.2 193.7 151.5 189.7 152.7 187.0 Z" fill="#0e66f4" stroke="#0c1c50" stroke-width="1.1"/>
<path d="M146.5 264.7 C144.6 265.9 144.2 270.9 144.0 274.7 C143.8 278.4 144.0 284.3 145.2 287.2 C146.5 290.1 149.0 291.8 151.5 292.2 C154.0 292.6 157.8 291.4 160.3 289.7 C162.8 288.0 166.1 284.9 166.5 282.2 C166.9 279.5 164.6 275.9 162.8 273.4 C160.9 270.9 158.0 268.6 155.3 267.2 C152.5 265.7 148.4 263.4 146.5 264.7 Z" fill="#0e66f4" stroke="#0c1c50" stroke-width="1.1"/>
<path d="M186.6 273.4 C187.4 270.5 189.7 264.2 192.8 262.2 C196.0 260.1 202.0 259.6 205.4 260.9 C208.7 262.2 211.6 266.5 212.9 269.7 C214.1 272.8 213.9 276.8 212.9 279.7 C211.8 282.6 209.5 286.2 206.6 287.2 C203.7 288.2 198.5 287.2 195.3 285.9 C192.2 284.7 189.3 281.8 187.8 279.7 C186.4 277.6 185.7 276.3 186.6 273.4 Z" fill="#0e66f4" stroke="#0c1c50" stroke-width="1.1"/>
<path d="M223.9 95.0 C209.6 102.0 223.3 115.2 223.9 122.0 C224.5 128.9 226.2 130.9 227.7 135.9 C229.2 141.0 230.6 146.5 232.7 152.4 C234.8 158.3 238.0 165.2 240.3 171.4 C242.6 177.5 244.1 183.8 246.7 189.1 C249.2 194.3 252.0 199.2 255.5 203.0 C259.1 206.8 263.7 209.7 268.0 212.1 C272.2 214.4 277.2 215.0 281.1 217.1 C284.9 219.1 288.1 221.7 291.1 224.6 C294.0 227.5 296.1 231.3 298.6 234.6 C301.1 237.9 304.4 241.7 306.1 244.6 C307.8 247.5 309.0 249.8 308.6 252.1 C308.2 254.4 306.5 256.7 303.6 258.4 C300.7 260.1 295.3 261.3 291.1 262.2 C286.8 263.0 282.7 263.4 278.0 263.4 C273.3 263.4 268.4 262.8 263.0 262.2 C257.5 261.5 250.4 259.4 245.4 259.6 C240.4 259.9 235.8 261.3 232.9 263.4 C230.0 265.5 228.7 269.9 227.9 272.2 C227.1 274.5 227.1 274.9 227.9 277.2 C228.7 279.5 230.4 283.4 232.9 285.9 C235.4 288.5 240.4 290.7 242.9 292.2 C245.4 293.8 245.8 294.8 247.9 295.2 C250.1 295.6 252.5 295.0 256.0 294.7 C259.4 294.4 262.7 294.3 268.5 293.5 C274.4 292.6 284.0 291.4 291.1 289.7 C298.2 288.0 305.3 285.9 311.1 283.4 C317.0 280.9 322.0 277.8 326.1 274.7 C330.3 271.5 333.7 268.0 336.2 264.7 C338.7 261.3 340.8 258.0 341.2 254.6 C341.6 251.3 340.3 248.4 338.7 244.6 C337.0 240.9 333.4 236.7 331.2 232.1 C328.9 227.5 326.3 222.1 324.9 217.1 C323.4 212.1 322.6 207.0 322.4 202.0 C322.2 197.0 322.8 191.8 323.6 187.0 C324.5 182.2 326.1 178.0 327.4 173.2 C328.6 168.4 330.5 163.2 331.2 158.2 C331.8 153.2 331.8 148.1 331.2 143.1 C330.5 138.1 328.9 132.1 327.4 128.1 C325.9 124.1 324.3 122.0 322.4 119.3 C320.5 116.6 318.2 113.9 316.1 111.8 C314.0 109.7 310.9 112.1 309.9 106.8 C308.8 101.5 324.2 82.0 309.9 80.0 C295.5 78.0 238.2 88.0 223.9 95.0 Z" fill="#0e66f4" stroke="#0c1c50" stroke-width="1.1"/>
<path d="M245.4 100.0 L275.7 100.0 L275.7 120.8 L284.6 127.1 L292.2 135.9 L299.8 147.3 L306.1 157.4 L309.9 167.6 L309.9 176.4 L306.1 182.7 L299.8 185.3 L290.9 184.0 L284.6 179.0 L277.0 173.9 L268.2 171.4 L260.6 163.8 L255.5 152.4 L250.4 142.3 L245.4 132.2 Z" fill="#108884" stroke="#0a2a3a" stroke-width="1.1"/>
<path d="M215.4 378.7 C215.6 377.0 218.3 374.1 220.4 372.4 C222.5 370.7 225.6 368.9 227.9 368.6 C230.2 368.4 232.5 369.7 234.2 371.2 C235.8 372.6 239.0 375.5 237.9 377.4 C236.9 379.3 231.0 381.6 227.9 382.4 C224.8 383.3 221.2 383.0 219.1 382.4 C217.0 381.8 215.2 380.3 215.4 378.7 Z" fill="#a8dce6" stroke="#1a1a40" stroke-width="0.8"/>
<circle cx="249.9" cy="271.7" r="0.8" fill="#10204a"/>
<use href="#cty" fill="none" stroke="#aebcfc" stroke-width="1.25" stroke-linejoin="round" opacity="0.9"/>
</g>
<use href="#lag" fill="#fff" stroke="#141430" stroke-width="0.9" stroke-linejoin="round"/>
<use href="#oth" fill="none" stroke="#1a1a1a" stroke-width="1.05" stroke-linejoin="round"/>
<use href="#roP" fill="none" stroke="#141438" stroke-width="1.35" stroke-linejoin="round"/>
</g>
</g>
<g transform="translate(805.3 139.5) rotate(54)"><rect x="-9.2" y="-7.8" width="18.5" height="15.7" fill="#fff"/><text x="0" y="4.9" font-size="13.6" text-anchor="middle" fill="#1a1a1a" stroke="#1a1a1a" stroke-width="0.5">20</text></g>
<g transform="translate(839.3 132.8) rotate(90)"><rect x="-9.5" y="-8.0" width="19.0" height="16.0" fill="#fff"/><text x="0" y="4.9" font-size="13.6" text-anchor="middle" fill="#1a1a1a" stroke="#1a1a1a" stroke-width="0.5">15</text></g>
<g transform="translate(815.2 237.8) rotate(66)"><rect x="-8.7" y="-8.1" width="17.3" height="16.1" fill="#fff"/><text x="0" y="4.9" font-size="13.6" text-anchor="middle" fill="#1a1a1a" stroke="#1a1a1a" stroke-width="0.5">15</text></g>
<g transform="translate(848.1 249.1) rotate(-80)"><rect x="-9.0" y="-7.8" width="18.0" height="15.6" fill="#fff"/><text x="0" y="4.9" font-size="13.6" text-anchor="middle" fill="#1a1a1a" stroke="#1a1a1a" stroke-width="0.5">15</text></g>
<g transform="translate(764.6 293.0) rotate(-8)"><rect x="-9.6" y="-7.8" width="19.1" height="15.7" fill="#fff"/><text x="0" y="4.9" font-size="13.6" text-anchor="middle" fill="#1a1a1a" stroke="#1a1a1a" stroke-width="0.5">15</text></g>
<g transform="translate(704.5 218.8) rotate(-52)"><rect x="-8.6" y="-7.8" width="17.2" height="15.6" fill="#fff"/><text x="0" y="4.9" font-size="13.6" text-anchor="middle" fill="#1a1a1a" stroke="#1a1a1a" stroke-width="0.5">10</text></g>
<g transform="translate(729.4 321.4) rotate(-15)"><rect x="-10.3" y="-7.2" width="20.6" height="14.4" fill="#fff"/><text x="0" y="4.9" font-size="13.6" text-anchor="middle" fill="#1a1a1a" stroke="#1a1a1a" stroke-width="0.5">10</text></g>
<g transform="translate(859.6 298.7) rotate(-41)"><rect x="-9.7" y="-7.2" width="19.4" height="14.3" fill="#fff"/><text x="0" y="4.9" font-size="13.6" text-anchor="middle" fill="#1a1a1a" stroke="#1a1a1a" stroke-width="0.5">10</text></g>
<rect x="544.5" y="79.5" width="438.5" height="311" fill="none" stroke="#555" stroke-width="1.1"/>
<use href="#logo" x="552" y="100"/>
<text x="516" y="55.5" font-size="12.6" font-weight="bold" fill="#111" textLength="493.5" lengthAdjust="spacingAndGlyphs">Precipitatii totale saptamanale. Valori medii multianuale. Saptamana:19/08 - 26/08</text>
<text x="684.5" y="74.4" font-size="10.6" fill="#e03838" textLength="157.5" lengthAdjust="spacingAndGlyphs">Perioada climatica: 1993 - 2016</text>
<text x="939.5" y="74.2" font-size="9.2" fill="#444" stroke="#444" stroke-width="0.15" textLength="43.5" lengthAdjust="spacingAndGlyphs">Units: mm</text>
<text x="514" y="113.0" font-size="9.4" fill="#444" textLength="20.7" lengthAdjust="spacingAndGlyphs">48°N</text>
<path d="M540.5 109.7 H544.5" stroke="#555" stroke-width="0.9"/>
<text x="514" y="175.6" font-size="9.4" fill="#444" textLength="20.7" lengthAdjust="spacingAndGlyphs">47°N</text>
<path d="M540.5 172.3 H544.5" stroke="#555" stroke-width="0.9"/>
<text x="514" y="236.7" font-size="9.4" fill="#444" textLength="20.7" lengthAdjust="spacingAndGlyphs">46°N</text>
<path d="M540.5 233.4 H544.5" stroke="#555" stroke-width="0.9"/>
<text x="514" y="297.5" font-size="9.4" fill="#444" textLength="20.7" lengthAdjust="spacingAndGlyphs">45°N</text>
<path d="M540.5 294.2 H544.5" stroke="#555" stroke-width="0.9"/>
<text x="514" y="358.7" font-size="9.4" fill="#444" textLength="20.7" lengthAdjust="spacingAndGlyphs">44°N</text>
<path d="M540.5 355.4 H544.5" stroke="#555" stroke-width="0.9"/>
<text x="632.0" y="407.6" font-size="10" fill="#333" text-anchor="middle" textLength="21" lengthAdjust="spacingAndGlyphs">22°E</text>
<path d="M632.0 390.5 V394.5" stroke="#555" stroke-width="0.9"/>
<text x="719.5" y="407.6" font-size="10" fill="#333" text-anchor="middle" textLength="21" lengthAdjust="spacingAndGlyphs">24°E</text>
<path d="M719.5 390.5 V394.5" stroke="#555" stroke-width="0.9"/>
<text x="807.5" y="407.6" font-size="10" fill="#333" text-anchor="middle" textLength="21" lengthAdjust="spacingAndGlyphs">26°E</text>
<path d="M807.5 390.5 V394.5" stroke="#555" stroke-width="0.9"/>
<text x="895.0" y="407.6" font-size="10" fill="#333" text-anchor="middle" textLength="21" lengthAdjust="spacingAndGlyphs">28°E</text>
<path d="M895.0 390.5 V394.5" stroke="#555" stroke-width="0.9"/>
<circle cx="560" cy="381.3" r="3.7" fill="#cfcfcf" stroke="#666" stroke-width="1.2"/><text x="560" y="383.4" font-size="5.8" text-anchor="middle" fill="#555" font-weight="bold">C</text>
<text x="567.5" y="384" font-size="7.6" fill="#444" textLength="52" lengthAdjust="spacingAndGlyphs">Meteo Romania</text>
<text x="716.5" y="388.8" font-size="5" fill="#a2a2aa" textLength="108" lengthAdjust="spacingAndGlyphs" text-decoration="underline">Created: Wed Dec 12 07:43:30 EET 2018</text>
<path d="M946.3 375 L952 375 L960.4 379 L960.4 383.7 L946.3 383.7 Z" fill="#5c66e4"/><path d="M948.6 375.6 C953 377 957.5 379.3 960.8 382.2" stroke="#fff" stroke-width="1" fill="none"/>
<text x="962.7" y="389.4" font-size="3.8" fill="#6a74e0" text-anchor="middle" font-weight="bold">NCAR</text>
<rect x="986.7" y="82.50" width="14.3" height="20.60" fill="#5a0508"/>
<rect x="986.7" y="102.80" width="14.3" height="20.60" fill="#7c1018"/>
<rect x="986.7" y="123.10" width="14.3" height="20.60" fill="#c8202a"/>
<rect x="986.7" y="143.40" width="14.3" height="20.60" fill="#ff2000"/>
<rect x="986.7" y="163.70" width="14.3" height="20.60" fill="#ffa500"/>
<rect x="986.7" y="184.00" width="14.3" height="20.60" fill="#ffc81e"/>
<rect x="986.7" y="204.30" width="14.3" height="20.60" fill="#c0f03c"/>
<rect x="986.7" y="224.60" width="14.3" height="20.60" fill="#96be32"/>
<rect x="986.7" y="244.90" width="14.3" height="20.60" fill="#50e61e"/>
<rect x="986.7" y="265.20" width="14.3" height="20.60" fill="#108884"/>
<rect x="986.7" y="285.50" width="14.3" height="20.60" fill="#0e66f4"/>
<rect x="986.7" y="305.80" width="14.3" height="20.60" fill="#6670f5"/>
<rect x="986.7" y="326.10" width="14.3" height="20.60" fill="#8092f8"/>
<rect x="986.7" y="346.40" width="14.3" height="20.60" fill="#a8dce6"/>
<rect x="986.7" y="366.70" width="14.3" height="20.60" fill="#ffffff"/>
<path d="M986.7 102.80 H1001" stroke="#222" stroke-opacity="0.45" stroke-width="0.6"/>
<path d="M986.7 123.10 H1001" stroke="#222" stroke-opacity="0.45" stroke-width="0.6"/>
<path d="M986.7 143.40 H1001" stroke="#222" stroke-opacity="0.45" stroke-width="0.6"/>
<path d="M986.7 163.70 H1001" stroke="#222" stroke-opacity="0.45" stroke-width="0.6"/>
<path d="M986.7 184.00 H1001" stroke="#222" stroke-opacity="0.45" stroke-width="0.6"/>
<path d="M986.7 204.30 H1001" stroke="#222" stroke-opacity="0.45" stroke-width="0.6"/>
<path d="M986.7 224.60 H1001" stroke="#222" stroke-opacity="0.45" stroke-width="0.6"/>
<path d="M986.7 244.90 H1001" stroke="#222" stroke-opacity="0.45" stroke-width="0.6"/>
<path d="M986.7 265.20 H1001" stroke="#222" stroke-opacity="0.45" stroke-width="0.6"/>
<path d="M986.7 285.50 H1001" stroke="#222" stroke-opacity="0.45" stroke-width="0.6"/>
<path d="M986.7 305.80 H1001" stroke="#222" stroke-opacity="0.45" stroke-width="0.6"/>
<path d="M986.7 326.10 H1001" stroke="#222" stroke-opacity="0.45" stroke-width="0.6"/>
<path d="M986.7 346.40 H1001" stroke="#222" stroke-opacity="0.45" stroke-width="0.6"/>
<path d="M986.7 366.70 H1001" stroke="#222" stroke-opacity="0.45" stroke-width="0.6"/>
<rect x="986.7" y="82.50" width="14.3" height="304.50" fill="none" stroke="#777" stroke-opacity="0.6" stroke-width="0.6"/>
<text x="1012.3" y="106.9" font-size="11.4" text-anchor="middle" fill="#3a3a3a">100</text>
<text x="1013.4" y="127.2" font-size="11.4" text-anchor="middle" fill="#3a3a3a">80</text>
<text x="1013.4" y="147.5" font-size="11.4" text-anchor="middle" fill="#3a3a3a">60</text>
<text x="1013.4" y="167.8" font-size="11.4" text-anchor="middle" fill="#3a3a3a">55</text>
<text x="1013.4" y="188.1" font-size="11.4" text-anchor="middle" fill="#3a3a3a">50</text>
<text x="1013.4" y="208.4" font-size="11.4" text-anchor="middle" fill="#3a3a3a">40</text>
<text x="1013.4" y="228.7" font-size="11.4" text-anchor="middle" fill="#3a3a3a">35</text>
<text x="1013.4" y="249.0" font-size="11.4" text-anchor="middle" fill="#3a3a3a">30</text>
<text x="1013.4" y="269.3" font-size="11.4" text-anchor="middle" fill="#3a3a3a">25</text>
<text x="1013.4" y="289.6" font-size="11.4" text-anchor="middle" fill="#3a3a3a">20</text>
<text x="1013.4" y="309.9" font-size="11.4" text-anchor="middle" fill="#3a3a3a">15</text>
<text x="1013.4" y="330.2" font-size="11.4" text-anchor="middle" fill="#3a3a3a">10</text>
<text x="1013.4" y="350.5" font-size="11.4" text-anchor="middle" fill="#3a3a3a">5</text>
<text x="1013.4" y="370.8" font-size="11.4" text-anchor="middle" fill="#3a3a3a">2</text>
</g>
</svg></body></html>
